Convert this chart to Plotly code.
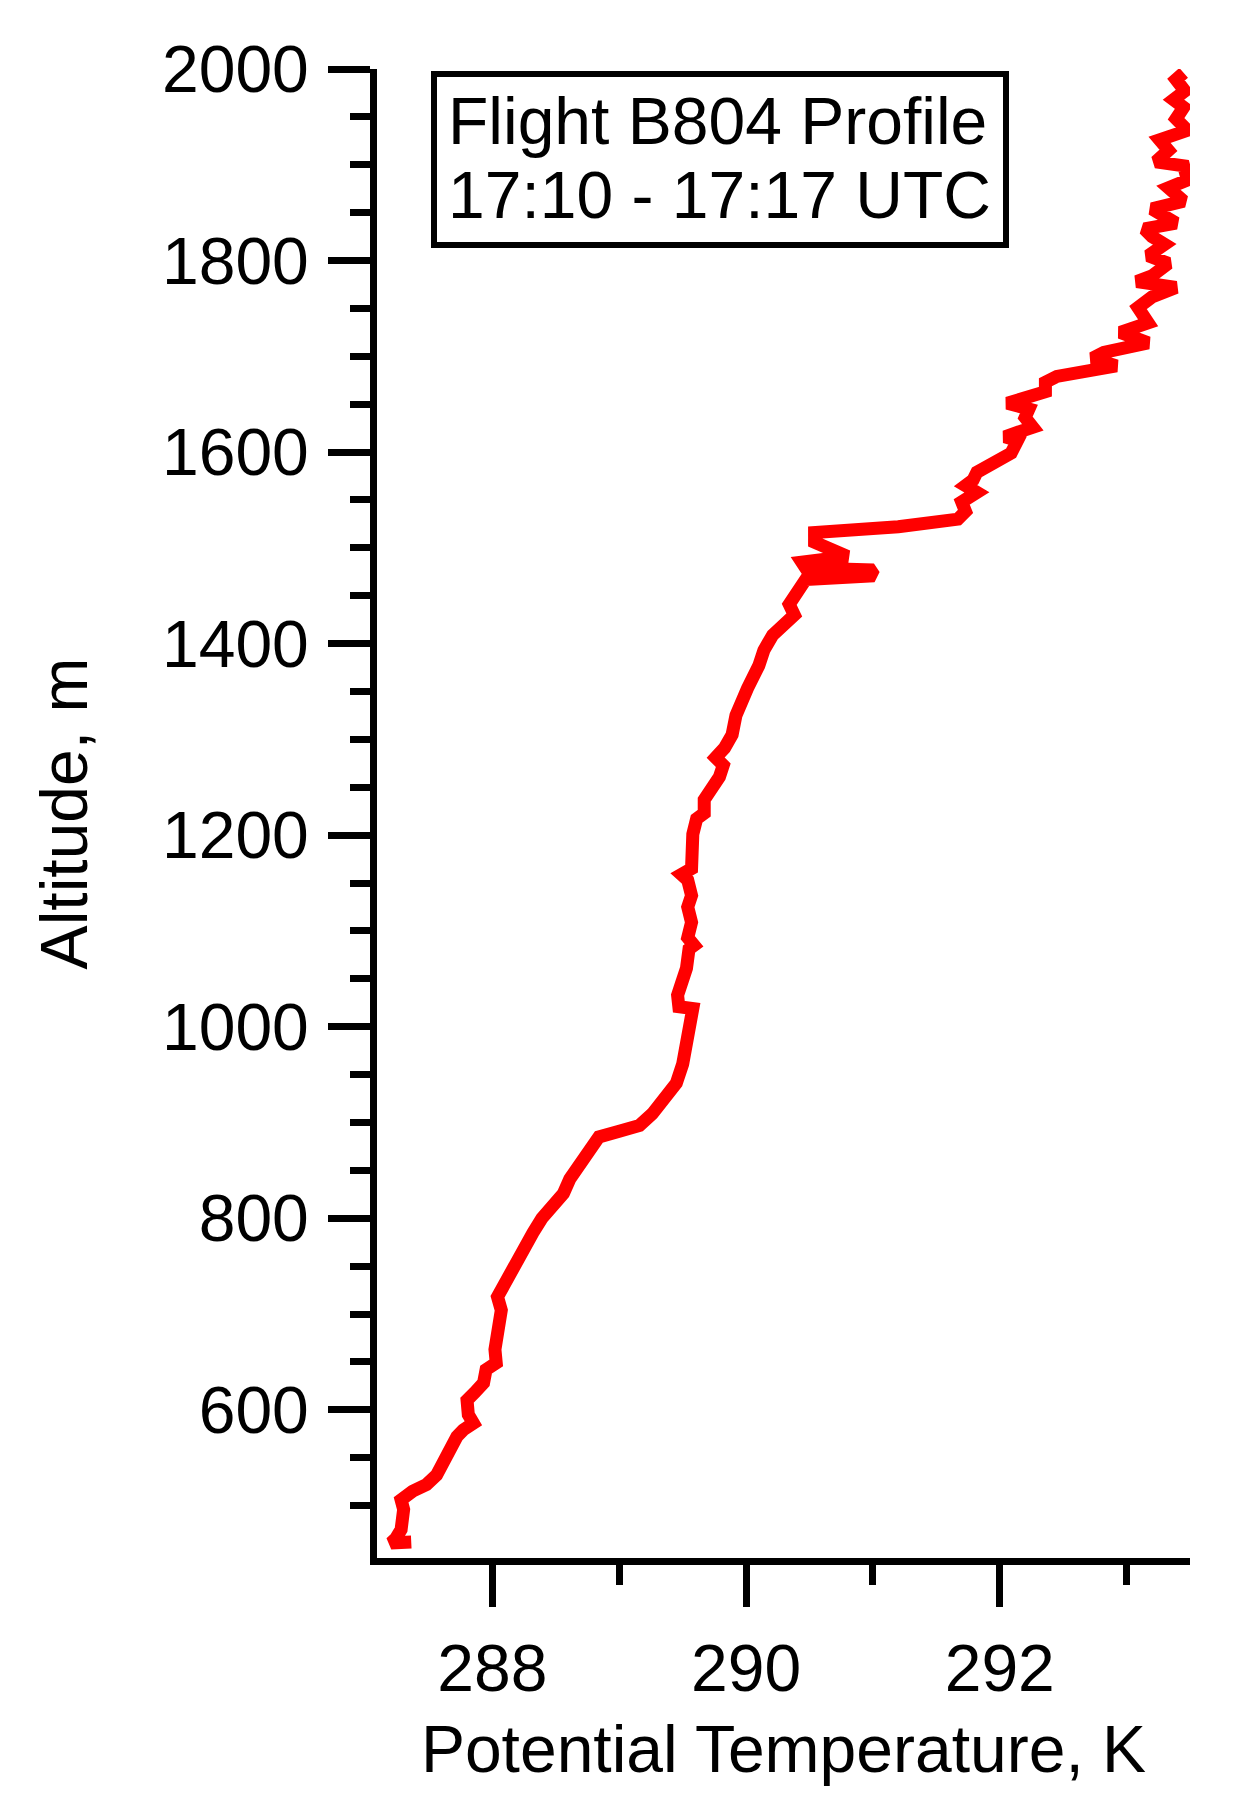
import plotly.graph_objects as go

# Potential temperature profile, flight B804
theta_k = [
    287.36, 287.20, 287.24, 287.28, 287.30, 287.28, 287.37, 287.48, 287.56, 287.60,
    287.65, 287.70, 287.72, 287.77, 287.85, 287.81, 287.80, 287.86, 287.93, 287.95,
    288.03, 288.02, 288.03, 288.03, 288.07, 288.04, 288.08, 288.12, 288.21, 288.27,
    288.32, 288.39, 288.48, 288.56, 288.61, 288.69, 288.77, 288.84, 289.00, 289.16,
    289.26, 289.37, 289.45, 289.50, 289.54, 289.58, 289.58, 289.47, 289.46, 289.49,
    289.53, 289.55, 289.59, 289.54, 289.57, 289.54, 289.57, 289.54, 289.49, 289.57,
    289.57, 289.58, 289.61, 289.67, 289.67, 289.74, 289.79, 289.82, 289.76, 289.83,
    289.89, 289.92, 289.95, 290.01, 290.10, 290.14, 290.21, 290.31, 290.38, 290.34,
    290.38, 290.41, 290.47, 291.01, 290.98, 290.47, 290.44, 290.80, 290.63, 290.54,
    290.54, 291.20, 291.67, 291.73, 291.70, 291.82, 291.73, 291.79, 291.82, 291.98,
    292.09, 292.14, 292.04, 292.17, 292.26, 292.20, 292.23, 292.06, 292.26, 292.36,
    292.36, 292.45, 292.92, 292.73, 292.82, 293.17, 292.95, 293.17, 293.09, 293.20,
    293.39, 293.08, 293.20, 293.33, 293.17, 293.30, 293.20, 293.14, 293.39, 293.20,
    293.45, 293.33, 293.48, 293.45, 293.23, 293.33, 293.26, 293.48, 293.39, 293.45,
    293.37, 293.46, 293.39, 293.45,
]
altitude_m = [
    462, 461, 466, 475, 496, 506, 515, 522, 532, 543,
    553, 563, 572, 579, 586, 595, 610, 618, 628, 642,
    649, 663, 673, 687, 704, 718, 728, 741, 757, 774,
    785, 800, 814, 826, 841, 857, 877, 885, 891, 897,
    909, 925, 941, 961, 985, 1009, 1019, 1021, 1033, 1045,
    1061, 1081, 1085, 1093, 1109, 1125, 1137, 1153, 1159, 1165,
    1185, 1201, 1217, 1223, 1237, 1249, 1261, 1273, 1281, 1291,
    1305, 1325, 1337, 1353, 1377, 1393, 1409, 1421, 1430, 1441,
    1448, 1456, 1467, 1471, 1477, 1479, 1485, 1491, 1500, 1506,
    1516, 1522, 1530, 1538, 1548, 1558, 1565, 1571, 1579, 1591,
    1599, 1612, 1616, 1622, 1626, 1636, 1645, 1651, 1657, 1663,
    1673, 1679, 1690, 1698, 1704, 1714, 1725, 1735, 1751, 1762,
    1772, 1778, 1784, 1797, 1805, 1817, 1825, 1833, 1839, 1854,
    1862, 1876, 1884, 1899, 1903, 1915, 1926, 1936, 1948, 1960,
    1968, 1977, 1989, 1996,
]

x_major_ticks = [288, 290, 292]
x_minor_ticks = [289, 291, 293]
y_major_ticks = [600, 800, 1000, 1200, 1400, 1600, 1800, 2000]
y_minor_ticks = list(range(500, 2000, 50))

box_lines = ["Flight B804 Profile", "17:10 - 17:17 UTC"]

# the page body adds 8px around the figure, so the figure is 8px smaller
PAGE_OFF = 8
W, H = 1244 - PAGE_OFF, 1806 - PAGE_OFF
L, R, T, B = 377, 54, 69, 248          # plot area edges on the page
PLOT_W = 1244 - L - R
PLOT_H = 1806 - T - B
FONT = "Arial, Liberation Sans, sans-serif"


def px(x):
    return (x - L) / PLOT_W


def py(y):
    return (1806 - B - y) / PLOT_H


fig = go.Figure()
fig.add_trace(go.Scatter(x=theta_k, y=altitude_m, mode="lines",
                         line=dict(color="#ff0000", width=13),
                         showlegend=False))

axis_style = dict(showline=True, linewidth=7, linecolor="black",
                  showgrid=False, zeroline=False, ticks="outside",
                  ticklen=42, tickwidth=7, tickcolor="black",
                  tickfont=dict(family=FONT, size=66, color="black"))

fig.update_xaxes(range=[287.09, 293.5], tickvals=x_major_ticks,
                 ticktext=[str(v) for v in x_major_ticks],
                 ticklabelstandoff=5,
                 minor=dict(tickmode="array", tickvals=x_minor_ticks,
                            ticks="outside", ticklen=20, tickwidth=7,
                            tickcolor="black"),
                 title=dict(text="Potential Temperature, K", standoff=24,
                            font=dict(family=FONT, size=66, color="black")),
                 **axis_style)
fig.update_yaxes(range=[445.3, 2000], tickvals=y_major_ticks,
                 ticktext=[str(v) for v in y_major_ticks],
                 ticklabelstandoff=6,
                 minor=dict(tickmode="array", tickvals=y_minor_ticks,
                            ticks="outside", ticklen=20, tickwidth=7,
                            tickcolor="black"),
                 title=dict(text="Altitude, m", standoff=55,
                            font=dict(family=FONT, size=66, color="black")),
                 **axis_style)

fig.add_shape(type="rect", xref="paper", yref="paper",
              x0=px(434), x1=px(1006), y0=py(74), y1=py(245),
              line=dict(color="black", width=6), fillcolor="rgba(0,0,0,0)")
for text, ymid in zip(box_lines, [121, 194.5]):
    fig.add_annotation(text=text, xref="paper", yref="paper",
                       x=px(446), y=py(ymid), xanchor="left", yanchor="middle",
                       showarrow=False,
                       font=dict(family=FONT, size=66, color="black"))

fig.update_layout(width=W, height=H,
                  margin=dict(l=L - PAGE_OFF, r=R, t=T - PAGE_OFF, b=B, pad=0),
                  plot_bgcolor="white", paper_bgcolor="white",
                  font=dict(family=FONT, size=66, color="black"))

fig.write_html("out.html")
